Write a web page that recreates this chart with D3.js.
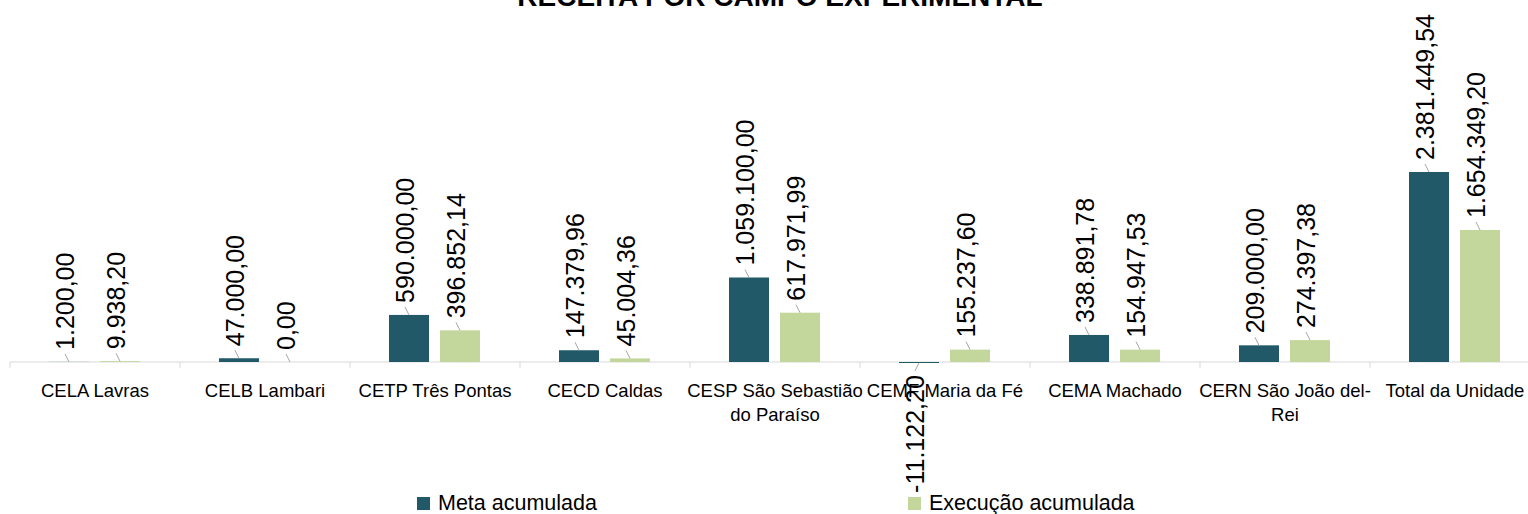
<!DOCTYPE html>
<html>
<head>
<meta charset="utf-8">
<script src="https://cdn.jsdelivr.net/npm/d3@7"></script>
<style>
  body { margin: 0; background: #fff; }
  text { font-family: "Liberation Sans", Arial, sans-serif; fill: #000; }
</style>
</head>
<body>
<div id="chart"></div>
<script>
var svgWidth = 1528;
var svgHeight = 514;

// data
var categories = ["CELA Lavras", "CELB Lambari", "CETP Três Pontas", "CECD Caldas",
  "CESP São Sebastião do Paraíso", "CEMF Maria da Fé", "CEMA Machado",
  "CERN São João del-Rei", "Total da Unidade"];
var metaValues = [1200.00, 47000.00, 590000.00, 147379.96, 1059100.00, -11122.20, 338891.78, 209000.00, 2381449.54];
var execValues = [9938.20, 0.00, 396852.14, 45004.36, 617971.99, 155237.60, 154947.53, 274397.38, 1654349.20];
var seriesNames = ["Meta acumulada", "Execução acumulada"];
var seriesColors = ["#215968", "#C3D69B"];

var rows = categories.map(function(c, i) {
  return { cat: c, values: [metaValues[i], execValues[i]] };
});

var svg = d3.select("#chart")
  .append("svg")
  .attr("width", svgWidth)
  .attr("height", svgHeight);

// title (clipped at the top as in the original)
svg.append("text")
  .attr("x", 780)
  .attr("y", 6)
  .attr("text-anchor", "middle")
  .attr("font-weight", "bold")
  .attr("font-size", "28px")
  .text("RECEITA POR CAMPO EXPERIMENTAL");

var xScale = d3.scaleBand()
  .domain(categories)
  .range([10, 1540])
  .padding(0);

var xInner = d3.scaleBand()
  .domain(seriesNames)
  .range([-46, 45])
  .paddingInner(0.2157)
  .paddingOuter(0);

var yScale = d3.scaleLinear()
  .domain([0, 2381449.54])
  .range([362, 172]);

var ptBR = d3.formatLocale({ decimal: ",", thousands: ".", grouping: [3], currency: ["R$", ""], minus: "-" });
var fmt = ptBR.format(",.2f");

// x axis line + ticks at category boundaries
var axisG = svg.append("g");
axisG.append("line")
  .attr("x1", 10).attr("x2", 1540)
  .attr("y1", yScale(0)).attr("y2", yScale(0))
  .attr("stroke", "#d9d9d9").attr("stroke-width", 1);
axisG.selectAll(".tick")
  .data(categories)
  .enter()
  .append("line")
  .attr("x1", d => xScale(d)).attr("x2", d => xScale(d))
  .attr("y1", yScale(0)).attr("y2", yScale(0) + 6)
  .attr("stroke", "#d9d9d9");

// bars
var groups = svg.selectAll(".cat")
  .data(rows)
  .enter()
  .append("g")
  .attr("transform", d => `translate(${xScale(d.cat) + xScale.bandwidth() / 2},0)`);

var barData = function(d) {
  return d.values.map(function(v, i) { return { v: v, s: seriesNames[i], i: i }; });
};

groups.selectAll("rect")
  .data(barData)
  .enter()
  .append("rect")
  .attr("x", d => xInner(d.s))
  .attr("width", xInner.bandwidth())
  .attr("y", d => Math.min(yScale(d.v), yScale(0)))
  .attr("height", d => Math.max(Math.abs(yScale(d.v) - yScale(0)), d.v < 0 ? 1 : 0))
  .attr("fill", d => seriesColors[d.i]);

// leader lines and rotated data labels
var labels = groups.selectAll(".lab")
  .data(barData)
  .enter()
  .append("g");

labels.append("line")
  .attr("x1", d => xInner(d.s) + xInner.bandwidth() / 2)
  .attr("y1", d => yScale(d.v))
  .attr("x2", d => xInner(d.s) + xInner.bandwidth() / 2 - 4)
  .attr("y2", d => d.v < 0 ? yScale(d.v) + 8 : yScale(d.v) - 8)
  .attr("stroke", "#a6a6a6")
  .attr("stroke-width", 1);

labels.append("text")
  .attr("transform", function(d) {
    var cx = xInner(d.s) + xInner.bandwidth() / 2 - 4;
    var y = d.v < 0 ? yScale(d.v) + 130 : yScale(d.v) - 12;
    return `translate(${cx + 9},${y}) rotate(-90)`;
  })
  .attr("font-size", "25px")
  .text(d => fmt(d.v));

// category labels with wrapping
var catLabels = svg.append("g").selectAll("text")
  .data(categories)
  .enter()
  .append("text")
  .attr("x", d => xScale(d) + xScale.bandwidth() / 2)
  .attr("y", 397)
  .attr("text-anchor", "middle")
  .attr("font-size", "18.5px");

catLabels.each(function(d) {
  var el = d3.select(this);
  var words = [];
  d.split(" ").forEach(function(w) {
    var parts = w.split(/(?<=-)/);
    parts.forEach(function(p, k) { words.push({ t: p, space: k === 0 }); });
  });
  var lines = [];
  var cur = "";
  var probe = el.append("tspan");
  words.forEach(function(w) {
    var test = cur === "" ? w.t : cur + (w.space ? " " : "") + w.t;
    probe.text(test);
    if (probe.node().getComputedTextLength() > 185 && cur !== "") {
      lines.push(cur);
      cur = w.t;
    } else {
      cur = test;
    }
  });
  lines.push(cur);
  probe.remove();
  lines.forEach(function(l, k) {
    el.append("tspan")
      .attr("x", el.attr("x"))
      .attr("dy", k === 0 ? 0 : 24)
      .text(l);
  });
});

// legend
var legendX = [417, 908];
var legend = svg.selectAll(".legend")
  .data(seriesNames)
  .enter()
  .append("g")
  .attr("transform", (d, i) => `translate(${legendX[i]},497)`);

legend.append("rect")
  .attr("width", 13)
  .attr("height", 13)
  .attr("fill", (d, i) => seriesColors[i]);

legend.append("text")
  .attr("x", 21)
  .attr("y", 13)
  .attr("font-size", "21.5px")
  .text(d => d);
</script>
</body>
</html>
